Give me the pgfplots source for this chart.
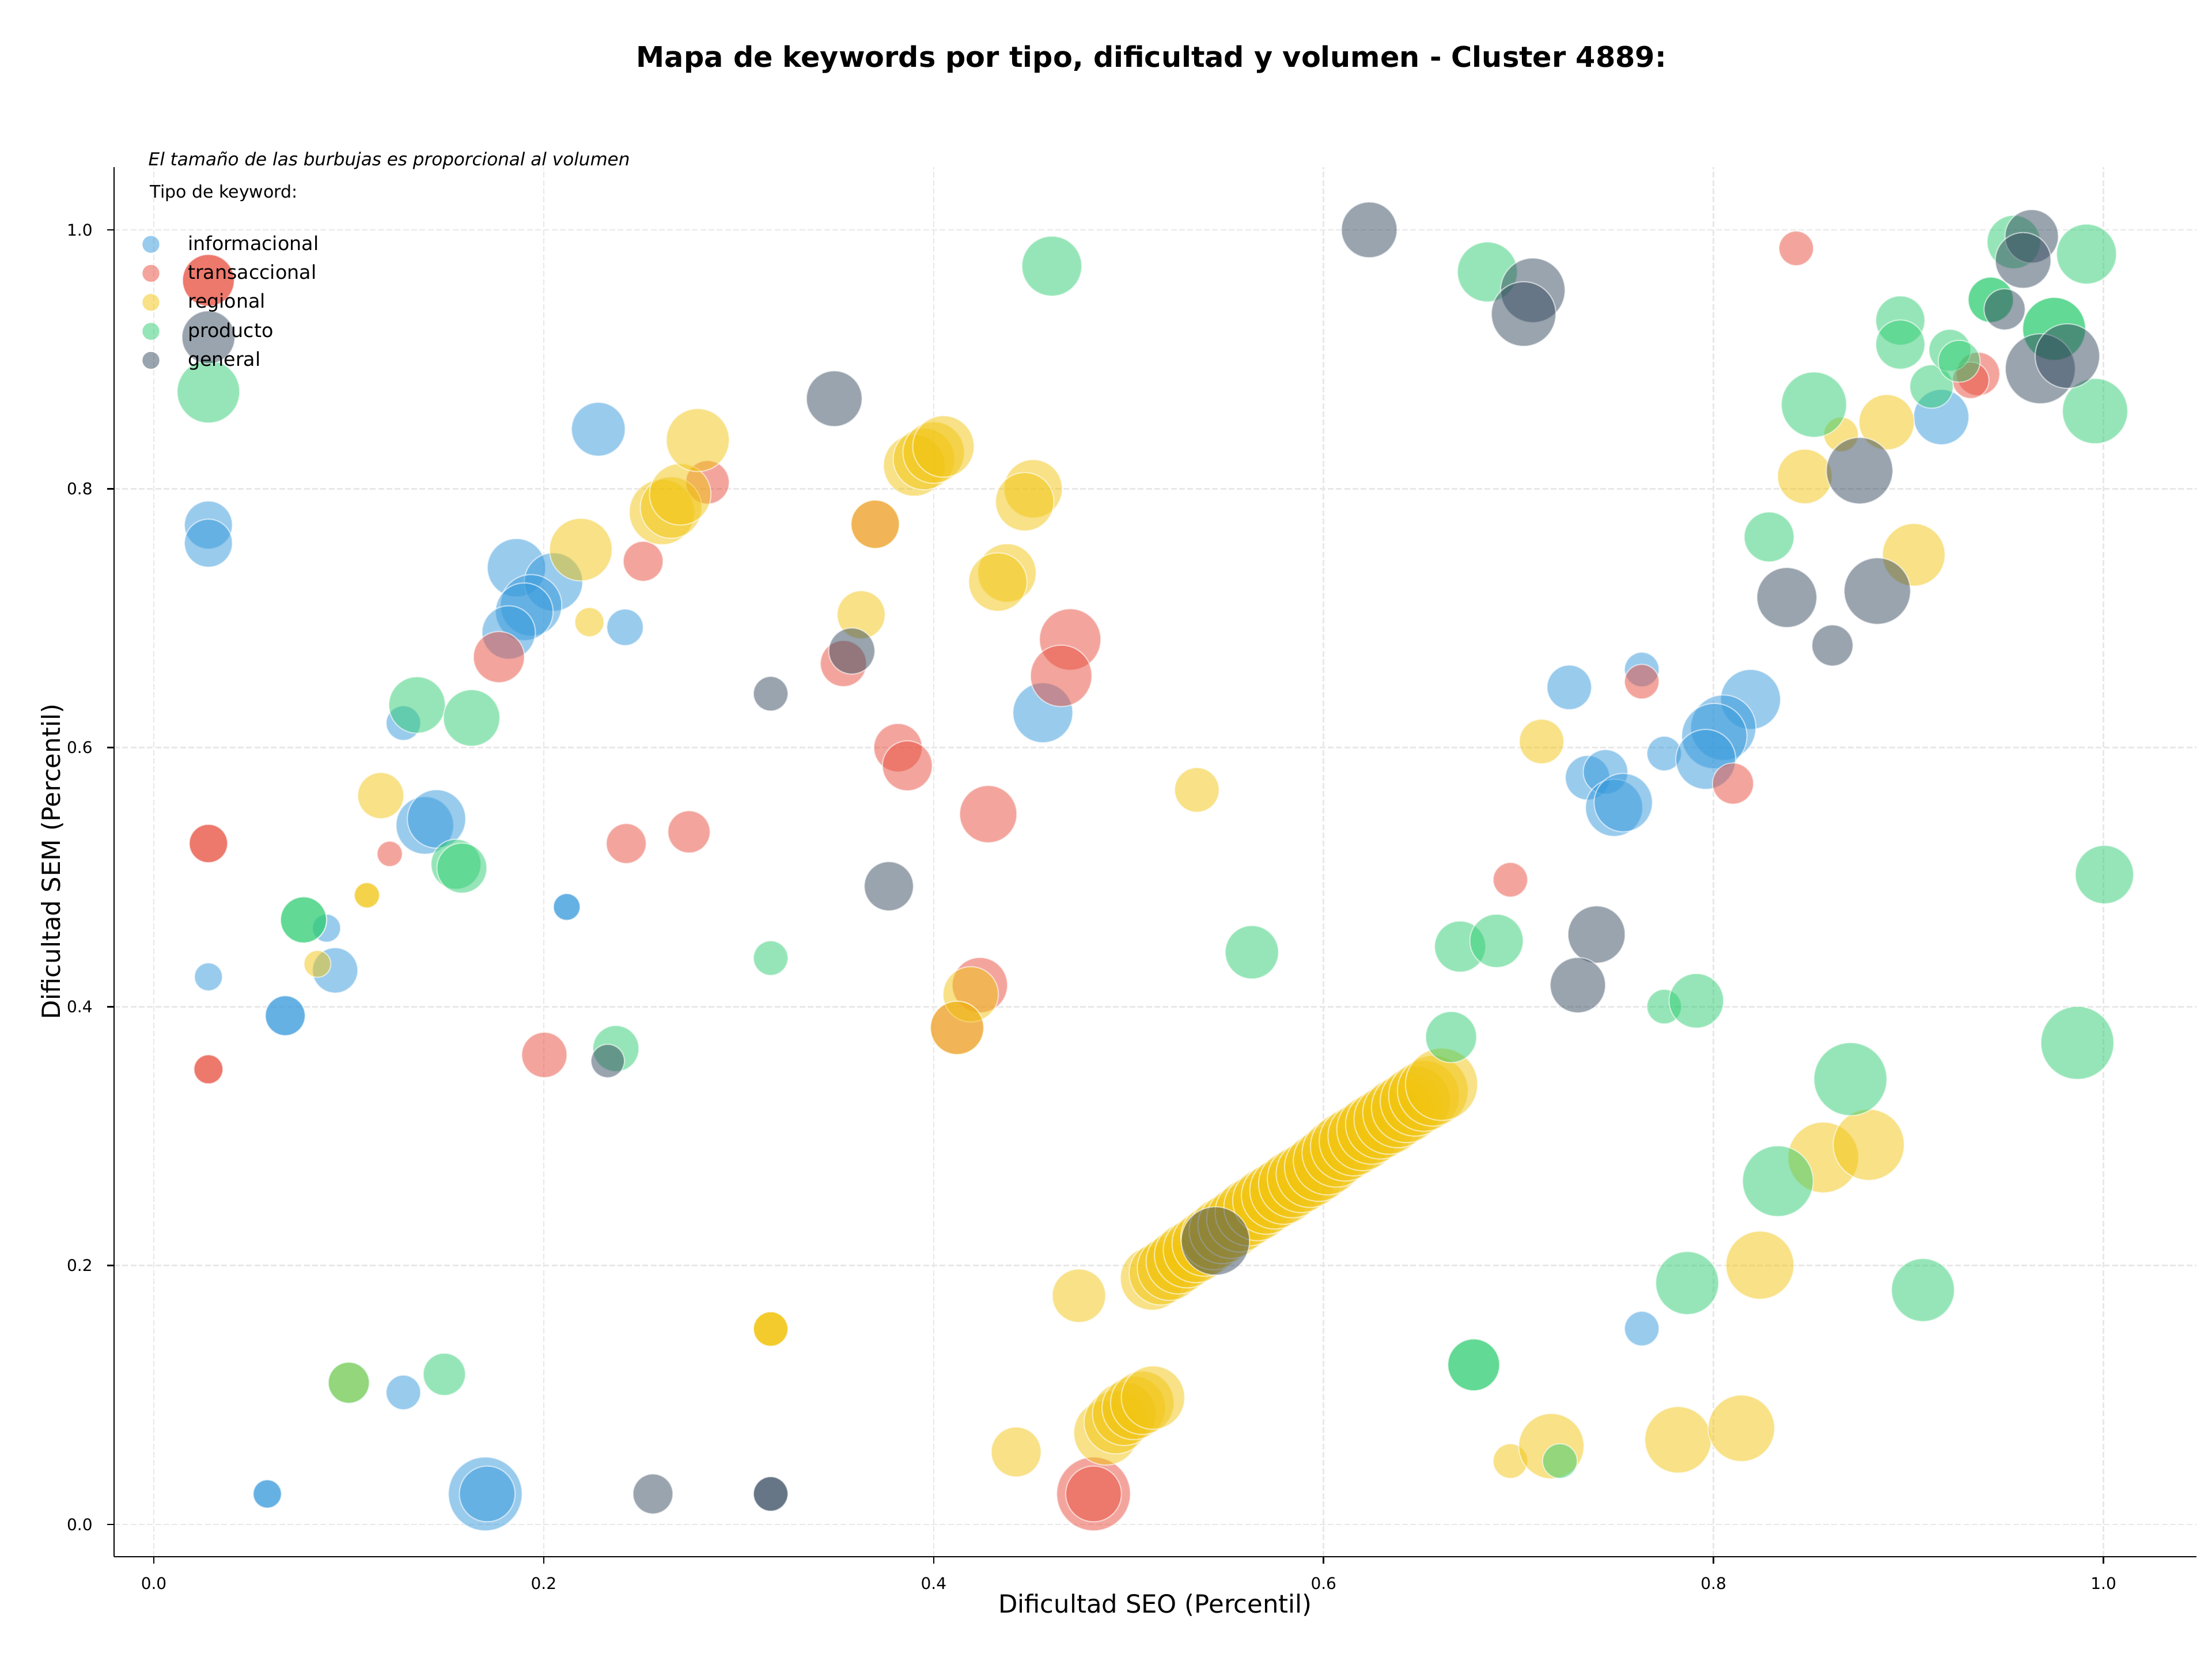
\documentclass[border=0pt]{standalone}
\usepackage{fontspec}
\setmainfont{DejaVu Sans}
\usepackage{pgfplots}
\pgfplotsset{compat=1.18}
\usepackage{pgfplotstable}

\definecolor{infoC}{HTML}{3498DB}
\definecolor{transC}{HTML}{E74C3C}
\definecolor{regC}{HTML}{F1C40F}
\definecolor{prodC}{HTML}{2ECC71}
\definecolor{genC}{HTML}{34495E}

% x = SEO difficulty, y = SEM difficulty, r = bubble radius (pt, from volume)
\pgfplotstableread{
x y r
0.028 0.772 12.5
0.028 0.758 12.5
0.228 0.846 14.0
0.186 0.739 15.2
0.205 0.728 15.2
0.1935 0.710 16.0
0.190 0.705 15.0
0.182 0.689 13.9
0.2417 0.693 9.5
0.128 0.619 9.0
0.139 0.540 15.0
0.145 0.545 15.2
0.0886 0.4606 7.3
0.028 0.423 7.3
0.093 0.428 11.8
0.0674 0.393 10.4
0.0674 0.393 10.4
0.2118 0.477 7.0
0.2118 0.477 7.0
0.128 0.102 9.0
0.0582 0.0236 7.4
0.0582 0.0236 7.4
0.170 0.0236 19.2
0.171 0.0236 14.5
0.456 0.627 15.6
0.726 0.6466 11.6
0.7632 0.6604 9.0
0.7354 0.5768 11.6
0.7446 0.5813 11.6
0.749 0.5536 14.9
0.7537 0.5576 15.2
0.7747 0.5955 9.0
0.819 0.6373 15.6
0.805 0.6155 17.0
0.8004 0.609 17.0
0.796 0.591 15.6
0.7632 0.1513 9.0
0.9168 0.8554 14.4
}\informacional

\pgfplotstableread{
x y r
0.028 0.961 13.5
0.028 0.961 13.5
0.028 0.526 10.0
0.028 0.526 10.0
0.028 0.3516 7.6
0.028 0.3516 7.6
0.121 0.518 6.6
0.177 0.670 13.3
0.251 0.744 10.4
0.2423 0.526 10.4
0.2745 0.535 11.0
0.2003 0.3627 11.8
0.284 0.805 11.3
0.370 0.7726 12.6
0.3537 0.665 12.0
0.470 0.6836 16.0
0.4654 0.6555 16.0
0.3817 0.600 12.6
0.3865 0.586 13.0
0.428 0.5487 14.9
0.4237 0.4166 14.4
0.412 0.3836 13.9
0.482 0.0236 19.2
0.482 0.0236 14.5
0.6958 0.498 9.0
0.7632 0.651 9.0
0.810 0.5723 10.7
0.8424 0.9857 9.0
0.9357 0.8887 11.3
0.9319 0.8838 9.5
}\transaccional

\pgfplotstableread{
x y r
0.2606 0.782 17.0
0.2653 0.7855 16.0
0.270 0.7957 16.0
0.279 0.8376 16.4
0.219 0.753 16.3
0.2234 0.697 7.6
0.1164 0.563 12.0
0.1093 0.486 6.6
0.1093 0.486 6.6
0.0839 0.433 7.0
0.100 0.1095 10.7
0.3164 0.151 9.0
0.3164 0.151 9.0
0.3164 0.151 9.0
0.370 0.7726 12.6
0.390 0.818 16.0
0.395 0.823 16.0
0.400 0.828 16.0
0.405 0.8327 16.0
0.451 0.800 15.2
0.4467 0.790 15.2
0.4376 0.735 15.2
0.4329 0.728 15.2
0.3628 0.7027 12.5
0.419 0.4095 14.4
0.412 0.3836 13.9
0.4745 0.1767 13.9
0.4423 0.056 13.0
0.4884 0.0708 16.8
0.4934 0.079 16.5
0.4977 0.0855 16.5
0.5026 0.090 16.5
0.507 0.094 16.5
0.5125 0.098 16.5
0.535 0.5674 11.6
0.7118 0.6048 11.6
0.6958 0.049 9.0
0.7168 0.0605 17.0
0.7818 0.0654 17.3
0.8143 0.0743 17.3
0.8238 0.2003 17.7
0.8563 0.2835 18.4
0.8796 0.2933 18.5
0.8654 0.842 9.0
0.8888 0.8514 14.4
0.8468 0.8095 14.2
0.9027 0.749 16.3
0.512 0.190 16.5
0.5165 0.194 16.5
0.521 0.198 16.8
0.5255 0.203 16.8
0.530 0.208 17.0
0.5345 0.212 17.0
0.539 0.217 17.0
0.5435 0.222 17.0
0.548 0.227 17.2
0.5525 0.231 17.2
0.557 0.236 17.2
0.5615 0.241 17.4
0.566 0.245 17.4
0.5705 0.250 17.4
0.575 0.254 17.4
0.5795 0.258 17.6
0.584 0.263 17.6
0.5885 0.267 17.6
0.593 0.271 17.6
0.5975 0.276 17.8
0.602 0.281 17.8
0.6065 0.287 17.8
0.611 0.292 18.0
0.6155 0.296 18.0
0.620 0.300 18.0
0.6245 0.305 18.0
0.629 0.309 18.0
0.6335 0.313 18.2
0.638 0.318 18.2
0.6425 0.322 18.2
0.647 0.327 18.2
0.6515 0.331 18.4
0.656 0.335 18.4
0.6605 0.340 18.8
}\regional

\pgfplotstableread{
x y r
0.028 0.875 16.3
0.135 0.633 14.7
0.163 0.623 14.7
0.155 0.510 13.0
0.158 0.507 13.0
0.0768 0.467 12.0
0.0768 0.467 12.0
0.237 0.3676 12.0
0.100 0.1095 10.7
0.149 0.116 11.0
0.3164 0.4375 9.0
0.4606 0.972 15.6
0.5632 0.442 13.9
0.670 0.4464 13.3
0.6887 0.4508 13.9
0.6654 0.3765 13.3
0.7747 0.400 9.0
0.7912 0.4045 14.2
0.677 0.1233 13.5
0.677 0.1233 13.5
0.7212 0.049 9.0
0.7865 0.1865 16.4
0.833 0.2652 18.4
0.8702 0.344 19.0
0.9074 0.1811 16.4
0.9866 0.372 19.0
1.0005 0.502 15.2
0.8285 0.7628 13.0
0.8515 0.865 17.0
0.9118 0.879 11.3
0.9212 0.907 10.9
0.926 0.8985 10.9
0.8958 0.930 12.8
0.8958 0.9114 12.8
0.9422 0.946 11.8
0.9422 0.946 11.8
0.9747 0.9235 16.4
0.9747 0.9235 16.4
0.9957 0.860 17.0
0.954 0.9906 13.9
0.9913 0.9813 15.6
0.684 0.9675 15.6
}\producto

\pgfplotstableread{
x y r
0.028 0.917 13.8
0.349 0.8696 14.5
0.358 0.6747 12.0
0.3164 0.6417 9.0
0.377 0.493 12.8
0.2328 0.358 8.7
0.256 0.0236 10.4
0.3164 0.0236 9.0
0.3164 0.0236 9.0
0.5445 0.219 17.8
0.6234 1.000 14.5
0.7073 0.9533 16.8
0.7026 0.935 16.8
0.740 0.4557 14.9
0.7304 0.4166 14.4
0.8749 0.814 17.3
0.8376 0.716 15.6
0.884 0.721 17.3
0.861 0.679 10.7
0.9632 0.995 13.9
0.9588 0.9764 14.5
0.9493 0.9386 10.7
0.9676 0.8927 18.2
0.9815 0.9025 16.8
}\general

\pgfplotsset{
  bubble/.style={
    scatter, only marks, mark=*, forget plot,
    line width=0.6pt,
    scatter/use mapped color={draw=white, draw opacity=0.6, fill=#1, fill opacity=0.5},
    visualization depends on={\thisrow{r} \as \bubr},
    scatter/@pre marker code/.append style={/tikz/mark size=\bubr pt},
  },
}

\begin{document}
\begin{tikzpicture}
\useasboundingbox (-59.4pt,-54.3pt) rectangle (1092.6pt,810.6pt);
\begin{axis}[
  name=ax, at={(0pt,0pt)}, anchor=south west,
  scale only axis, width=1084.5pt, height=723.6pt,
  xmin=-0.0204, xmax=1.0477, ymin=-0.0249, ymax=1.0485,
  axis lines*=left,
  axis line style={line width=0.8pt, black},
  tick align=outside, major tick length=3.5pt,
  tick style={line width=0.8pt, black},
  xtick={0,0.2,0.4,0.6,0.8,1.0},
  ytick={0,0.2,0.4,0.6,0.8,1.0},
  /pgf/number format/fixed,
  /pgf/number format/fixed zerofill,
  /pgf/number format/precision=1,
  /pgf/number format/assume math mode=true,
  ticklabel style={font=\fontsize{8.4}{10}\selectfont},
  xticklabel style={inner sep=0pt, anchor=north, yshift=-7pt},
  yticklabel style={inner sep=0pt, anchor=east, xshift=-7.5pt},
  grid=major,
  major grid style={dash pattern=on 3pt off 1.3pt, black!9, line width=0.8pt},
  clip mode=individual,
  legend style={at={(0,1)}, anchor=north west, xshift=14.8pt, yshift=-33.7pt,
    draw=none, fill=none, inner sep=0pt, outer sep=0pt,
    row sep=2pt, column sep=0pt,
    font=\fontsize{10}{12}\selectfont},
  legend cell align=left,
  legend image code/.code={\fill[#1, draw=none] (0pt,0pt) circle (4.4pt); \path (17pt,0pt);},
]
\addplot[bubble=infoC] table[x=x, y=y] {\informacional};
\addplot[bubble=transC] table[x=x, y=y] {\transaccional};
\addplot[bubble=regC] table[x=x, y=y] {\regional};
\addplot[bubble=prodC] table[x=x, y=y] {\producto};
\addplot[bubble=genC] table[x=x, y=y] {\general};

\addlegendimage{fill=infoC, fill opacity=0.5}
\addlegendentry{informacional}
\addlegendimage{fill=transC, fill opacity=0.5}
\addlegendentry{transaccional}
\addlegendimage{fill=regC, fill opacity=0.5}
\addlegendentry{regional}
\addlegendimage{fill=prodC, fill opacity=0.5}
\addlegendentry{producto}
\addlegendimage{fill=genC, fill opacity=0.5}
\addlegendentry{general}
\end{axis}

\node[font=\bfseries\fontsize{14.8}{17}\selectfont] at ([xshift=-2pt, yshift=56pt]ax.north)
  {Mapa de keywords por tipo, dificultad y volumen - Cluster 4889:};
\node[anchor=west, inner sep=0pt, font=\itshape\fontsize{9.3}{11}\selectfont]
  at ([xshift=17.7pt, yshift=3.3pt]ax.north west)
  {El tamaño de las burbujas es proporcional al volumen};
\node[anchor=west, inner sep=0pt, font=\fontsize{9}{11}\selectfont]
  at ([xshift=18.6pt, yshift=-13.7pt]ax.north west) {Tipo de keyword:};
\node[font=\fontsize{13}{15}\selectfont] at ([yshift=-25.2pt]ax.south)
  {Dificultad SEO (Percentil)};
\node[rotate=90, font=\fontsize{13}{15}\selectfont] at ([xshift=-32.1pt]ax.west)
  {Dificultad SEM (Percentil)};
\end{tikzpicture}
\end{document}
